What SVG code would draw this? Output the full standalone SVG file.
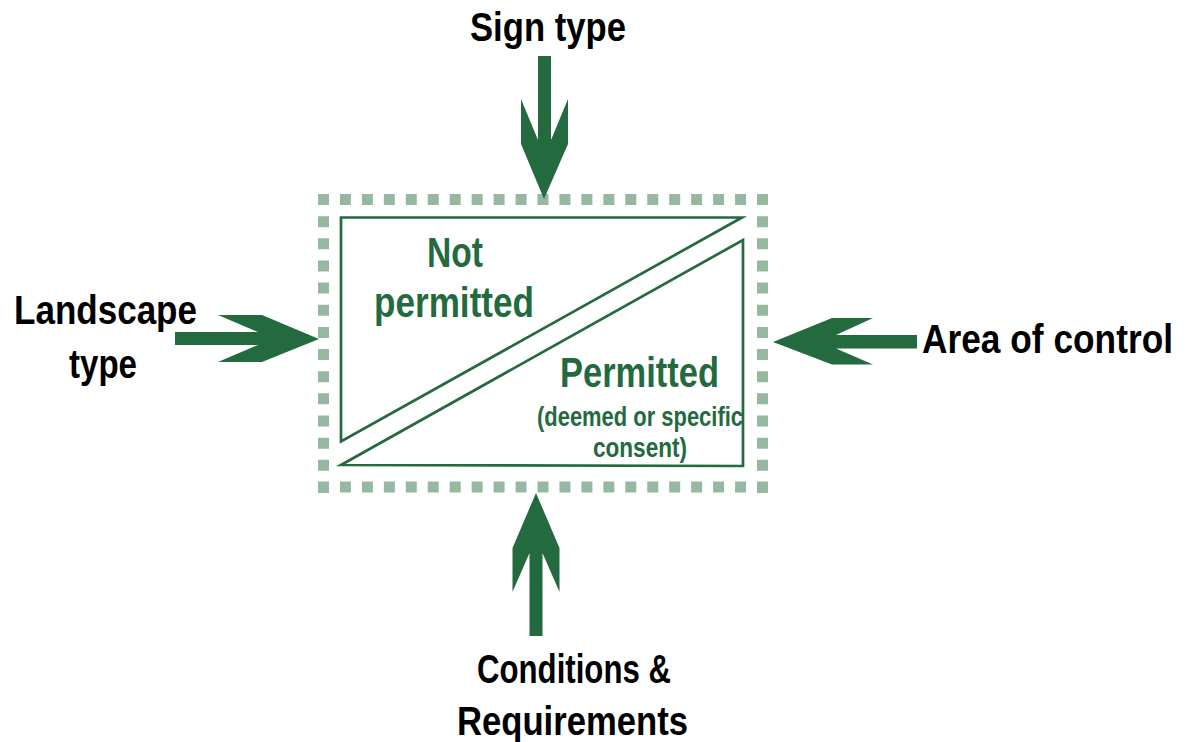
<svg xmlns="http://www.w3.org/2000/svg" width="1186" height="742" viewBox="0 0 1186 742">
<style>
.lbl{font-family:"Liberation Sans Narrow","Liberation Sans",Arial,sans-serif;font-weight:bold;fill:#000;font-size:40px}
.in{font-family:"Liberation Sans Narrow","Liberation Sans",Arial,sans-serif;font-weight:bold;fill:#236a3f;text-anchor:start}
.big{font-size:42px}
.sm{font-size:28px}
.arrow{fill:#236a3f}
.dot{stroke:#94b9a0;stroke-width:11;fill:none}
.tri{fill:none;stroke:#236a3f;stroke-width:2.7;stroke-linejoin:miter}
</style>
<rect width="1186" height="742" fill="#fff"/>
<g id="frame">
<line class="dot" x1="318" y1="199.5" x2="768" y2="199.5" stroke-dasharray="11 10.95"/>
<line class="dot" x1="318" y1="487" x2="768" y2="487" stroke-dasharray="11 10.95"/>
<line class="dot" x1="323.5" y1="194" x2="323.5" y2="493" stroke-dasharray="11 11.15"/>
<line class="dot" x1="762.5" y1="194" x2="762.5" y2="493" stroke-dasharray="11 11.15"/>
</g>
<g id="not-permitted">
<polygon class="tri" points="341,217.5 742,217.5 341,441.5"/>
<text class="in big" x="427" y="267" textLength="56" lengthAdjust="spacingAndGlyphs">Not</text>
<text class="in big" x="374" y="317" textLength="160" lengthAdjust="spacingAndGlyphs">permitted</text>
</g>
<g id="permitted">
<polygon class="tri" points="743,240 743,466 341,465"/>
<text class="in big" x="560" y="387" textLength="159" lengthAdjust="spacingAndGlyphs">Permitted</text>
<text class="in sm" x="537" y="426" textLength="206" lengthAdjust="spacingAndGlyphs">(deemed or specific</text>
<text class="in sm" x="593" y="457" textLength="94" lengthAdjust="spacingAndGlyphs">consent)</text>
</g>
<g id="sign-type">
<text class="lbl" x="470" y="41" textLength="156" lengthAdjust="spacingAndGlyphs">Sign type</text>
</g>
<g id="landscape-type">
<text class="lbl" x="14" y="324" textLength="183" lengthAdjust="spacingAndGlyphs">Landscape</text>
<text class="lbl" x="69" y="378" textLength="68" lengthAdjust="spacingAndGlyphs">type</text>
</g>
<g id="area-of-control">
<text class="lbl" x="1173" y="353" text-anchor="end" textLength="251" lengthAdjust="spacingAndGlyphs">Area of control</text>
</g>
<g id="conditions">
<text class="lbl" x="477" y="683" textLength="194" lengthAdjust="spacingAndGlyphs">Conditions &amp;</text>
<text class="lbl" x="457" y="735" textLength="231" lengthAdjust="spacingAndGlyphs">Requirements</text>
</g>
<g id="connectors">
<polygon class="arrow" points="538,56 551,56 551,140 568,99 568,144 544,199 521,144 521,99 538,140"/>
<polygon class="arrow" points="175,332 258,332 218,315 262,315 319,339 262,362 218,362 258,345 175,345"/>
<polygon class="arrow" points="917,335 836,335 873,318 832,318 773,342 832,364.5 873,364.5 836,348.5 917,348.5"/>
<polygon class="arrow" points="529.5,636 542.5,636 542.5,553 559.5,592 559.5,548 536,493 512.5,548 512.5,592 529.5,553"/>
</g>
</svg>
